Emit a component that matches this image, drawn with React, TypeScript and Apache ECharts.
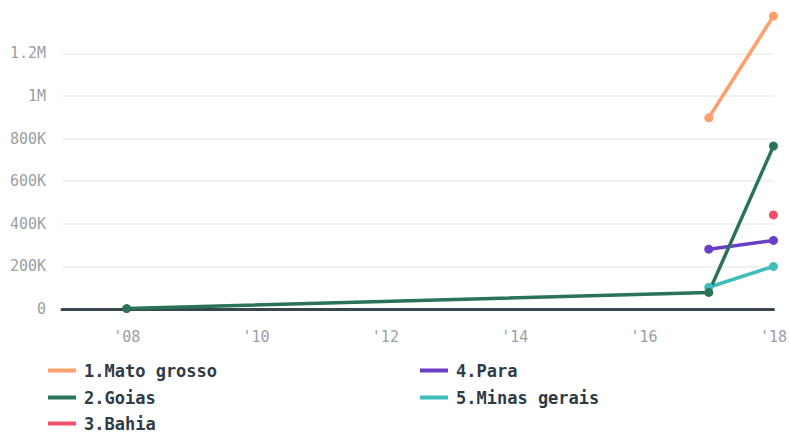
import React, { useEffect, useRef } from "react";
import * as echarts from "echarts";

const seriesNames = ["1.Mato grosso", "2.Goias", "3.Bahia", "4.Para", "5.Minas gerais"];
const seriesColors = ["#ffa06c", "#2b7358", "#f0506a", "#6c3ec6", "#3fbdbd"];
const matoGrosso: [number, number][] = [[2017, 898000], [2018, 1376000]];
const goias: [number, number][] = [[2008, 2000], [2017, 78000], [2018, 765000]];
const bahia: [number, number][] = [[2018, 442000]];
const para: [number, number][] = [[2017, 281000], [2018, 322000]];
const minasGerais: [number, number][] = [[2017, 102000], [2018, 200000]];
const seriesData = [matoGrosso, goias, bahia, para, minasGerais];
const drawOrder = [0, 2, 3, 4, 1];
const legendPos: [number, number][] = [[48, 370], [48, 397], [48, 423], [420, 370], [420, 397]];

const FONT = "DejaVu Sans Mono";

function fmtY(v: number): string {
  if (v === 0) return "0";
  if (v >= 1e6) return v / 1e6 + "M";
  if (v >= 1e3) return v / 1e3 + "K";
  return String(v);
}

export default function App() {
  const ref = useRef<HTMLDivElement>(null);
  useEffect(() => {
    if (!ref.current) return;
    const chart = echarts.init(ref.current, null, { renderer: "svg" });
    const legendText = { fontFamily: FONT, fontSize: 17, fontWeight: "bold", color: "#2f3b45" };
    chart.setOption({
      animation: false,
      grid: { left: 62, right: 14, top: 16, bottom: 123 },
      xAxis: {
        type: "value",
        min: 2007,
        max: 2018,
        interval: 1,
        axisLine: { show: true, onZero: true, lineStyle: { color: "#37474f", width: 3 } },
        axisTick: { show: false },
        splitLine: { show: false },
        axisLabel: {
          margin: 20,
          fontFamily: FONT,
          fontSize: 15,
          color: "#9aa0a6",
          formatter: (v: number) => (v % 2 === 0 ? "'" + String(v).slice(2) : ""),
        },
      },
      yAxis: {
        type: "value",
        min: 0,
        max: 1376000,
        interval: 200000,
        axisLine: { show: false },
        axisTick: { show: false },
        splitLine: { show: true, showMaxLine: false, lineStyle: { color: "#ececec", width: 1.5 } },
        axisLabel: {
          showMaxLabel: false,
          margin: 16,
          fontFamily: FONT,
          fontSize: 15,
          color: "#9aa0a6",
          formatter: fmtY,
        },
      },
      legend: seriesNames.map((n, i) => ({
        data: [n],
        left: legendPos[i][0],
        top: legendPos[i][1] - 8,
        itemWidth: 28,
        itemHeight: 4,
        itemGap: 8,
        icon: "rect",
        textStyle: { ...legendText, padding: [0, 0, 0, 3] },
        padding: 0,
      })),
      series: drawOrder.map((i) => ({
        name: seriesNames[i],
        type: "line",
        data: seriesData[i],
        color: seriesColors[i],
        clip: false,
        symbol: "circle",
        symbolSize: 9,
        showSymbol: true,
        lineStyle: { width: 3.5, color: seriesColors[i] },
        itemStyle: { color: seriesColors[i] },
      })),
    });
    return () => chart.dispose();
  }, []);
  return (
    <div
      ref={ref}
      style={{ position: "absolute", left: 0, top: 0, width: 790, height: 432 }}
    />
  );
}
